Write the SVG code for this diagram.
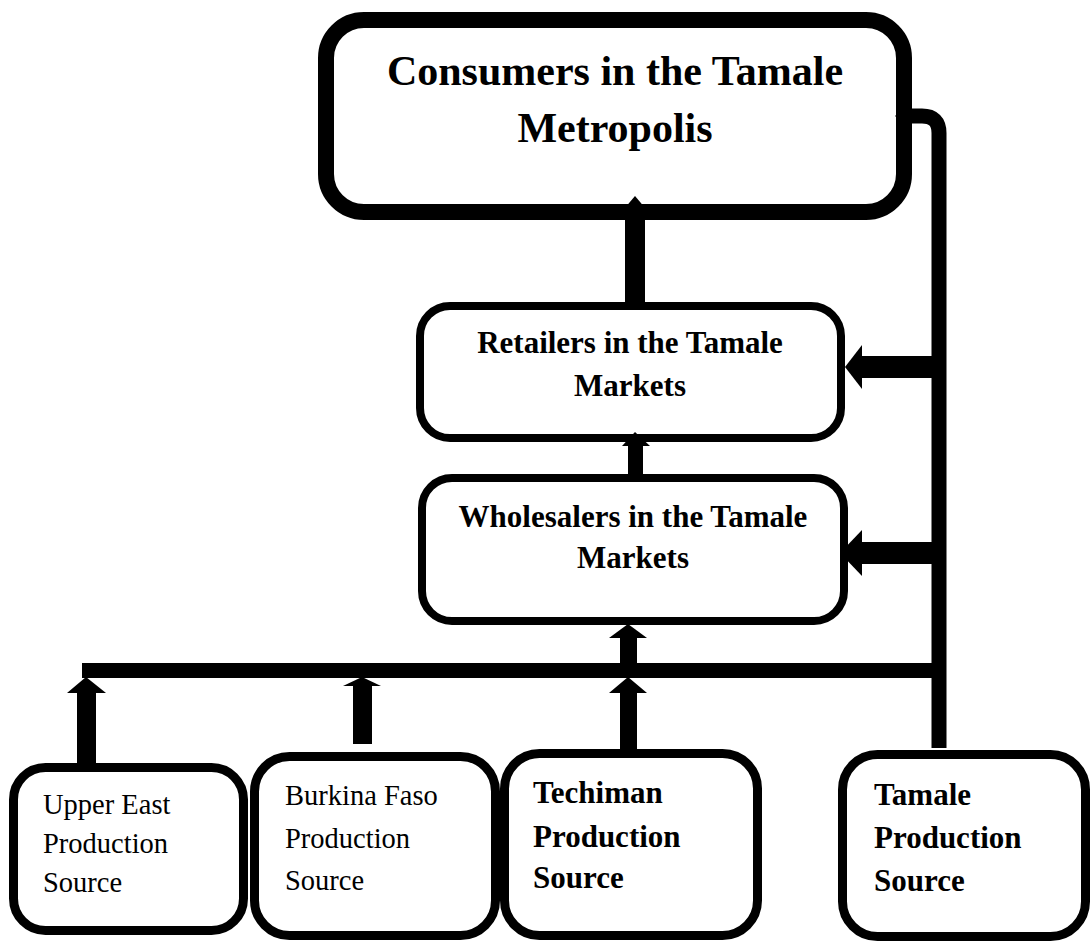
<svg xmlns="http://www.w3.org/2000/svg" width="1092" height="943" viewBox="0 0 1092 943">
<style>
.box{fill:#fff;stroke:#000}
.k{fill:#000}
.t{font-family:"Liberation Serif","Times New Roman",serif;fill:#000}
.b{font-weight:bold}
</style>
<rect width="1092" height="943" fill="#fff"/>
<g id="consumers">
<rect class="box" x="326" y="20" width="578" height="192" rx="38" stroke-width="16"/>
<text class="t b" x="615" y="85" font-size="42" text-anchor="middle">Consumers in the Tamale</text>
<text class="t b" x="615" y="142" font-size="42" text-anchor="middle">Metropolis</text>
</g>
<g id="retailers">
<rect class="box" x="420" y="306" width="421" height="132" rx="30" stroke-width="8"/>
<text class="t b" x="630" y="353" font-size="31" text-anchor="middle">Retailers in the Tamale</text>
<text class="t b" x="630" y="396" font-size="31" text-anchor="middle">Markets</text>
</g>
<g id="wholesalers">
<rect class="box" x="422" y="478" width="422" height="143" rx="30" stroke-width="8"/>
<text class="t b" x="633" y="527" font-size="31" text-anchor="middle">Wholesalers in the Tamale</text>
<text class="t b" x="633" y="568" font-size="31" text-anchor="middle">Markets</text>
</g>
<g id="upper-east">
<rect class="box" x="13.5" y="767.5" width="230" height="163" rx="32" stroke-width="9"/>
<text class="t" x="43" y="814" font-size="28.5">Upper East</text>
<text class="t" x="43" y="853" font-size="28.5">Production</text>
<text class="t" x="43" y="892" font-size="28.5">Source</text>
</g>
<g id="burkina-faso">
<rect class="box" x="254.5" y="756.5" width="241" height="179" rx="35" stroke-width="9"/>
<text class="t" x="285" y="805" font-size="28.5">Burkina Faso</text>
<text class="t" x="285" y="848" font-size="28.5">Production</text>
<text class="t" x="285" y="890" font-size="28.5">Source</text>
</g>
<g id="techiman">
<rect class="box" x="504.5" y="753.5" width="253" height="182" rx="35" stroke-width="9"/>
<text class="t b" x="533" y="803" font-size="31">Techiman</text>
<text class="t b" x="533" y="847" font-size="31">Production</text>
<text class="t b" x="533" y="888" font-size="31">Source</text>
</g>
<g id="tamale">
<rect class="box" x="842.5" y="754.5" width="243" height="182" rx="35" stroke-width="9"/>
<text class="t b" x="874" y="805" font-size="31">Tamale</text>
<text class="t b" x="874" y="848" font-size="31">Production</text>
<text class="t b" x="874" y="891" font-size="31">Source</text>
</g>
<g id="connectors">
<!-- retailers to consumers -->
<rect class="k" x="625" y="208" width="20" height="96"/>
<polygon class="k" points="635,196 624,209 646,209"/>
<!-- tamale source line to consumers -->
<path d="M905 116 H922 Q939 116 939 133 V748" fill="none" stroke="#000" stroke-width="15"/>
<polygon class="k" points="895,116 906,107 906,125"/>
<!-- tamale line to retailers -->
<rect class="k" x="860" y="356" width="79" height="22"/>
<polygon class="k" points="845,367 862,345 862,389"/>
<!-- tamale line to wholesalers -->
<rect class="k" x="860" y="542" width="79" height="22"/>
<polygon class="k" points="840,553 862,530 862,576"/>
<!-- wholesalers to retailers -->
<rect class="k" x="628" y="444" width="15" height="32"/>
<polygon class="k" points="635,432 622,446 650,446"/>
<!-- collector line -->
<rect class="k" x="82" y="663" width="857" height="15"/>
<!-- collector to wholesalers -->
<rect class="k" x="620" y="636" width="17" height="28"/>
<polygon class="k" points="628,624 609,638 647,638"/>
<!-- upper east -->
<rect class="k" x="77" y="691" width="19" height="74"/>
<polygon class="k" points="86,677 67,693 106,693"/>
<!-- burkina faso -->
<rect class="k" x="353" y="685" width="19" height="59"/>
<polygon class="k" points="362,677 343,686 381,686"/>
<!-- techiman -->
<rect class="k" x="620" y="691" width="17" height="60"/>
<polygon class="k" points="628,677 609,693 647,693"/>
</g>
</svg>
